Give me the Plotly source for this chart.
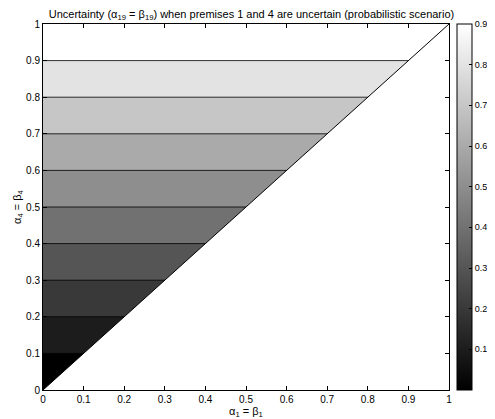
import plotly.graph_objects as go

# Data: the uncertainty surface depends only on alpha4 (rows)
alpha1_grid = [0.0, 1.0]
alpha4_grid = [0.0, 0.05, 0.15, 0.25, 0.35, 0.45, 0.55, 0.65, 0.75, 0.85, 0.95, 1.0]
uncertainty_by_row = [0.0, 0.05, 0.15, 0.25, 0.35, 0.45, 0.55, 0.65, 0.75, 0.85, 0.95, 1.0]
contour_levels = dict(start=0.1, end=0.9, size=0.1)
colorbar_range = [0.0, 0.9]
tick_vals = [0, 0.1, 0.2, 0.3, 0.4, 0.5, 0.6, 0.7, 0.8, 0.9, 1]
tick_text = ["0", "0.1", "0.2", "0.3", "0.4", "0.5", "0.6", "0.7", "0.8", "0.9", "1"]
cbar_ticks = [0.1, 0.2, 0.3, 0.4, 0.5, 0.6, 0.7, 0.8, 0.9]
# infeasible region boundary (alpha1 > alpha4)
boundary_x = [0.0, 1.0, 1.0, 0.0]
boundary_y = [0.0, 1.0, 0.0, 0.0]
diag = [0.0, 1.0]

z = [[u for _ in alpha1_grid] for u in uncertainty_by_row]

gray = [[0, "rgb(0,0,0)"], [1, "rgb(255,255,255)"]]
FONT = "Liberation Sans, Arial, sans-serif"

fig = go.Figure()
fig.add_trace(go.Contour(
    x=alpha1_grid, y=alpha4_grid, z=z,
    autocontour=False, contours=dict(coloring="fill", **contour_levels),
    colorscale=gray, showscale=False,
    line=dict(color="black", width=0.8), hoverinfo="skip",
))
fig.add_trace(go.Scatter(
    x=boundary_x, y=boundary_y, fill="toself", fillcolor="white",
    mode="lines", line=dict(width=0), showlegend=False, hoverinfo="skip",
))
fig.add_trace(go.Scatter(
    x=diag, y=diag, mode="lines", line=dict(color="black", width=1),
    showlegend=False, hoverinfo="skip",
))
fig.add_trace(go.Scatter(
    x=[None, None], y=[None, None], mode="markers",
    marker=dict(color=colorbar_range, cmin=colorbar_range[0], cmax=colorbar_range[1],
                colorscale=gray, showscale=True, opacity=0,
                colorbar=dict(
                    x=1.0197, xanchor="left", xpad=0, y=0, yanchor="bottom", ypad=0,
                    len=1, lenmode="fraction", thickness=15, thicknessmode="pixels",
                    outlinewidth=1, outlinecolor="black",
                    tickvals=cbar_ticks, ticktext=[str(v) for v in cbar_ticks],
                    ticks="inside", ticklen=3, tickcolor="black",
                    tickfont=dict(family=FONT, size=9, color="black"),
                )),
    showlegend=False, hoverinfo="skip",
))

axis_common = dict(
    range=[0, 1], tickvals=tick_vals, ticktext=tick_text,
    ticks="inside", ticklen=4, tickcolor="black", tickwidth=1,
    showline=True, linecolor="black", linewidth=1, mirror="ticks",
    showgrid=False, zeroline=False, automargin=False,
    tickfont=dict(family=FONT, size=10, color="black"),
)
fig.update_xaxes(**axis_common, title=dict(text="α<sub>1</sub> = β<sub>1</sub>",
                 font=dict(family=FONT, size=11, color="black"), standoff=0))
fig.update_yaxes(**axis_common, title=dict(text="α<sub>4</sub> = β<sub>4</sub>",
                 font=dict(family=FONT, size=11, color="black"), standoff=2))

# page body has an 8px margin, so the figure is shifted by 8px
fig.update_layout(
    width=487, height=411,
    margin=dict(l=35, r=46, t=16, b=29, autoexpand=False),
    paper_bgcolor="white", plot_bgcolor="white",
    showlegend=False,
    title=dict(text="Uncertainty (α<sub>19</sub> = β<sub>19</sub>) when premises 1 and 4 are uncertain (probabilistic scenario)",
               x=0.5, xanchor="center", y=1.0, yanchor="top", yref="container",
               pad=dict(t=2, b=0),
               font=dict(family=FONT, size=11, color="black")),
)

fig.write_html("out.html")
